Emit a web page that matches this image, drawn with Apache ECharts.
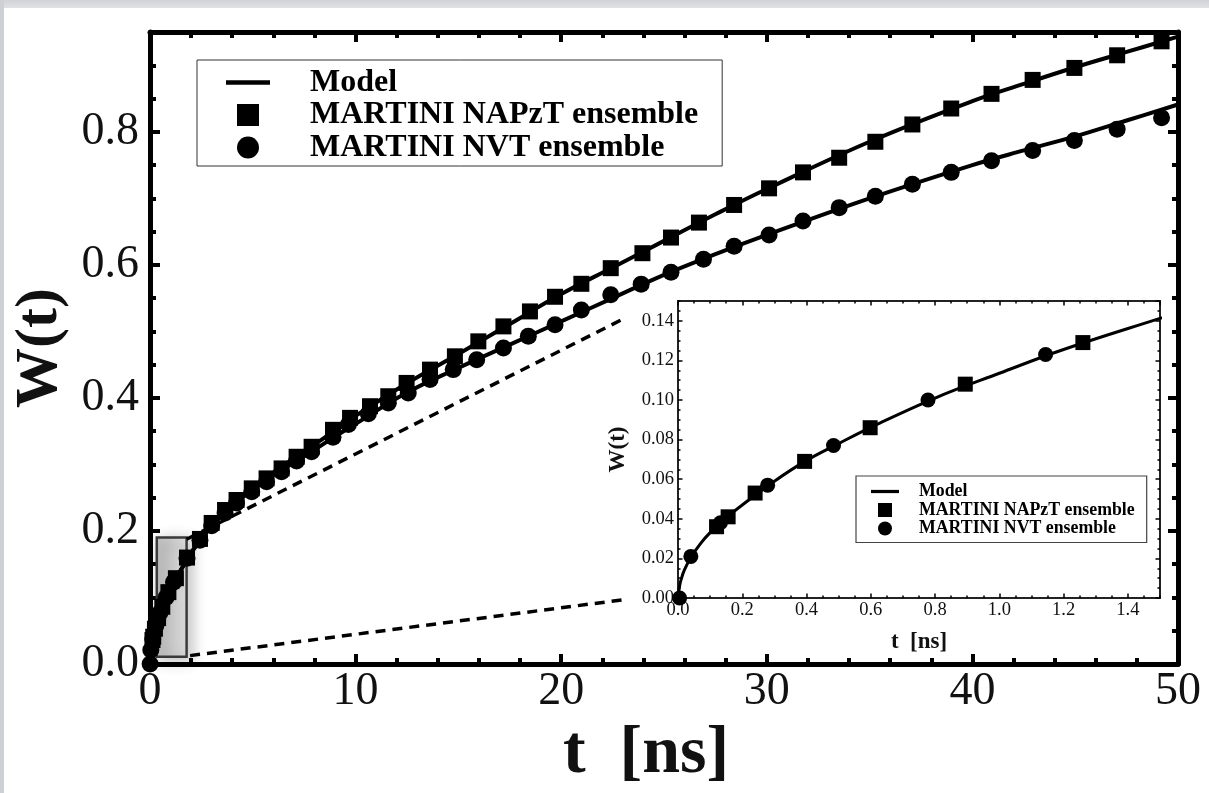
<!DOCTYPE html>
<html><head><meta charset="utf-8">
<script src="https://cdn.jsdelivr.net/npm/echarts@6/dist/echarts.min.js"></script>
<style>html,body{margin:0;padding:0;background:#fff;}#c{width:1209px;height:793px;}</style>
</head><body><div id="c"></div>
<script>
// ---------- data ----------
const napztT = [0.12, 0.156, 0.24, 0.394, 0.598, 0.894, 1.26, 1.8, 2.43, 3.0, 3.65, 4.21, 4.95, 5.67, 6.40, 7.13, 7.86, 8.9, 9.73, 10.70, 11.59, 12.48, 13.62, 14.83, 15.97, 17.19, 18.48, 19.70, 20.98, 22.41, 23.95, 25.34, 26.70, 28.41, 30.11, 31.76, 33.52, 35.28, 37.08, 38.97, 40.93, 42.93, 44.96, 47.04, 49.2];
const napztW = [0.036, 0.041, 0.053, 0.069, 0.086, 0.108, 0.129, 0.160, 0.188, 0.212, 0.2315, 0.2465, 0.264, 0.279, 0.294, 0.3115, 0.3265, 0.352, 0.370, 0.3875, 0.4025, 0.4225, 0.4425, 0.4625, 0.485, 0.5075, 0.530, 0.552, 0.5715, 0.595, 0.6175, 0.641, 0.6635, 0.690, 0.715, 0.739, 0.761, 0.785, 0.811, 0.835, 0.857, 0.878, 0.896, 0.915, 0.936];

const nvtT = [0.005, 0.04, 0.132, 0.279, 0.484, 0.778, 1.144, 1.8, 2.43, 3.0, 3.65, 4.21, 4.95, 5.67, 6.40, 7.13, 7.86, 8.9, 9.65, 10.62, 11.59, 12.56, 13.62, 14.75, 15.89, 17.19, 18.40, 19.70, 20.98, 22.41, 23.89, 25.34, 26.92, 28.41, 30.11, 31.76, 33.52, 35.28, 37.08, 38.97, 40.93, 42.93, 44.96, 47.04, 49.2];
const nvtW = [0.0, 0.021, 0.038, 0.057, 0.077, 0.100, 0.123, 0.159, 0.186, 0.208, 0.227, 0.242, 0.259, 0.274, 0.289, 0.305, 0.319, 0.341, 0.360, 0.376, 0.3925, 0.4075, 0.4275, 0.4425, 0.4575, 0.475, 0.4925, 0.510, 0.532, 0.555, 0.571, 0.589, 0.6085, 0.628, 0.645, 0.666, 0.686, 0.703, 0.721, 0.739, 0.7565, 0.772, 0.787, 0.804, 0.821];

const modelT      = [0, 0.005, 0.01, 0.02, 0.04, 0.07, 0.1, 0.15, 0.2, 0.3, 0.4, 0.5, 0.6, 0.8, 1.0, 1.2, 1.5, 2, 2.5, 3, 4, 5, 6, 7, 8, 9, 10, 12.5, 15, 17.5, 20, 22.5, 25, 27.5, 30, 35, 40, 42.5, 45, 47.5, 50];
const modelNapztW = [0, 0.006, 0.0095, 0.0142, 0.0205, 0.0275, 0.033, 0.0405, 0.047, 0.059, 0.0695, 0.078, 0.0862, 0.101, 0.1135, 0.1255, 0.1412, 0.167, 0.189, 0.209, 0.240, 0.265, 0.2875, 0.309, 0.330, 0.351, 0.373, 0.422, 0.466, 0.511, 0.556, 0.596, 0.636, 0.676, 0.714, 0.785, 0.846, 0.872, 0.897, 0.920, 0.943];
const modelNvtW   = [0, 0.006, 0.0095, 0.0142, 0.0205, 0.0275, 0.033, 0.0405, 0.047, 0.059, 0.0695, 0.078, 0.0862, 0.101, 0.1135, 0.1255, 0.1412, 0.167, 0.188, 0.208, 0.238, 0.262, 0.284, 0.303, 0.322, 0.342, 0.361, 0.408, 0.445, 0.480, 0.515, 0.550, 0.585, 0.616, 0.645, 0.700, 0.750, 0.772, 0.793, 0.817, 0.841];

const legendNames = ['Model', 'MARTINI NAPzT ensemble', 'MARTINI NVT ensemble'];

// annotation (zoom box + connector lines), in data units of the main axes
const zoomBox = [[0.33, 0.011], [1.78, 0.19]];
const connectorTop = [[1.78, 0.1875], [23.1, 0.52]];
const connectorBottom = [[1.95, 0.0126], [22.96, 0.0963]];

// ---------- helpers ----------
const SERIF = 'Liberation Serif';
const pairs = (xs, ys) => xs.map((x, i) => [x, ys[i]]);

function axis(o) {
  const a = {
    type: 'value', gridIndex: o.grid, position: o.pos, min: o.min, max: o.max, interval: o.interval,
    axisLine: { show: !!o.line, onZero: false, lineStyle: { color: '#000', width: o.line || 1 } },
    axisTick: { show: true, inside: true, length: o.tickLen, lineStyle: { color: '#000', width: o.tickW } },
    splitLine: { show: false },
    axisLabel: o.label ? Object.assign({ show: true, fontFamily: SERIF, color: '#111', showMaxLabel: false, showMinLabel: true }, o.label) : { show: false },
    silent: true
  };
  if (o.name) {
    a.name = o.name; a.nameLocation = 'middle'; a.nameGap = o.nameGap;
    if (o.nameRotate) a.nameRotate = o.nameRotate;
    a.nameTextStyle = Object.assign({ fontFamily: SERIF, fontWeight: 'bold', fontSize: o.nameSize, color: '#111' }, o.nameExtra || {});
  }
  if (o.minor) a.minorTick = { show: true, splitNumber: o.minor, length: o.minorLen, lineStyle: { color: '#000', width: o.tickW } };
  return a;
}

const xAxes = [
  // main
  axis({ grid: 0, pos: 'bottom', min: 0, max: 50, interval: 10, line: 5, tickLen: 10, tickW: 4, minor: 5, minorLen: 6,
         label: { fontSize: 46, margin: 5, showMaxLabel: true, formatter: v => String(v) },
         name: 't  [ns]', nameGap: 56, nameSize: 68, nameExtra: { padding: [0, 36, 0, 0] } }),
  axis({ grid: 0, pos: 'top', min: 0, max: 50, interval: 10, line: 5, tickLen: 10, tickW: 4, minor: 5, minorLen: 6 }),
  // inset
  axis({ grid: 1, pos: 'bottom', min: 0, max: 1.5, interval: 0.2, tickLen: 4.5, tickW: 1.5,
         label: { fontSize: 18.5, margin: 3, formatter: v => v.toFixed(1) }, name: 't  [ns]', nameGap: 33, nameSize: 23 }),
  axis({ grid: 1, pos: 'bottom', min: 0, max: 1.5, interval: 0.05, tickLen: 2.5, tickW: 1.5 }),
  axis({ grid: 1, pos: 'top', min: 0, max: 1.5, interval: 0.2, tickLen: 4.5, tickW: 1.5 }),
  axis({ grid: 1, pos: 'top', min: 0, max: 1.5, interval: 0.05, tickLen: 2.5, tickW: 1.5 })
];
const yAxes = [
  // main
  axis({ grid: 0, pos: 'left', min: 0, max: 0.95, interval: 0.2, line: 5, tickLen: 10, tickW: 4,
         label: { fontSize: 46, margin: 11, padding: [0, 0, 6, 0], formatter: v => v.toFixed(1) },
         name: 'W(t)', nameGap: 78, nameSize: 60, nameRotate: 90 }),
  axis({ grid: 0, pos: 'left', min: 0, max: 0.95, interval: 0.05, tickLen: 6, tickW: 4 }),
  axis({ grid: 0, pos: 'right', min: 0, max: 0.95, interval: 0.2, line: 5, tickLen: 10, tickW: 4 }),
  axis({ grid: 0, pos: 'right', min: 0, max: 0.95, interval: 0.05, tickLen: 6, tickW: 4 }),
  // inset
  axis({ grid: 1, pos: 'left', min: 0, max: 0.15, interval: 0.02, tickLen: 4.5, tickW: 1.5,
         label: { fontSize: 18.5, margin: 4, formatter: v => v.toFixed(2) }, name: 'W(t)', nameGap: 48, nameSize: 23, nameRotate: 90 }),
  axis({ grid: 1, pos: 'left', min: 0, max: 0.15, interval: 0.005, tickLen: 2.5, tickW: 1.5 }),
  axis({ grid: 1, pos: 'right', min: 0, max: 0.15, interval: 0.02, tickLen: 4.5, tickW: 1.5 }),
  axis({ grid: 1, pos: 'right', min: 0, max: 0.15, interval: 0.005, tickLen: 2.5, tickW: 1.5 })
];

const black = { color: '#000', opacity: 1 };
const coord = p => ({ coord: p });

const series = [
  { name: legendNames[0], type: 'line', xAxisIndex: 0, yAxisIndex: 0, data: pairs(modelT, modelNapztW),
    smooth: 0.4, showSymbol: false, lineStyle: { color: '#000', width: 4 }, itemStyle: black, z: 3,
    markLine: { silent: true, animation: false, symbol: ['none', 'none'], label: { show: false },
      lineStyle: { color: '#000', width: 3.5, type: [10, 7] },
      data: [[coord(connectorTop[0]), coord(connectorTop[1])], [coord(connectorBottom[0]), coord(connectorBottom[1])]] },
    markArea: { silent: true, animation: false, label: { show: false },
      itemStyle: { color: new echarts.graphic.LinearGradient(0, 0, 1, 0, [{ offset: 0, color: 'rgba(165,165,165,0.6)' }, { offset: 1, color: 'rgba(235,235,235,0.6)' }]),
        borderColor: '#3a3a3a', borderWidth: 2.5, shadowBlur: 14, shadowColor: 'rgba(0,0,0,0.35)', shadowOffsetX: 4, shadowOffsetY: 3 },
      data: [[coord(zoomBox[0]), coord(zoomBox[1])]] } },
  { name: legendNames[0], type: 'line', xAxisIndex: 0, yAxisIndex: 0, data: pairs(modelT, modelNvtW),
    smooth: 0.4, showSymbol: false, lineStyle: { color: '#000', width: 4 }, itemStyle: black, z: 3 },
  { name: legendNames[1], type: 'scatter', xAxisIndex: 0, yAxisIndex: 0, data: pairs(napztT, napztW),
    symbol: 'rect', symbolSize: 16, itemStyle: black, z: 4 },
  { name: legendNames[2], type: 'scatter', xAxisIndex: 0, yAxisIndex: 0, data: pairs(nvtT, nvtW),
    symbol: 'circle', symbolSize: 17, itemStyle: black, z: 4 },
  // inset
  { name: legendNames[0], type: 'line', xAxisIndex: 2, yAxisIndex: 4, data: pairs(modelT, modelNapztW), clip: true,
    smooth: 0.4, showSymbol: false, lineStyle: { color: '#000', width: 3 }, itemStyle: black, z: 3 },
  { name: legendNames[1], type: 'scatter', xAxisIndex: 2, yAxisIndex: 4, data: pairs(napztT, napztW), clip: true,
    symbol: 'rect', symbolSize: 15, itemStyle: black, z: 4 },
  { name: legendNames[2], type: 'scatter', xAxisIndex: 2, yAxisIndex: 4, data: pairs(nvtT, nvtW), clip: true,
    symbol: 'circle', symbolSize: 15, itemStyle: black, z: 4 }
];

const legendText = (size, padLeft) => ({ fontFamily: SERIF, fontWeight: 'bold', fontSize: size, color: '#000', padding: [0, 0, 0, padLeft] });

const option = {
  animation: false,
  backgroundColor: '#fff',
  graphic: [
    { type: 'rect', left: 0, top: 0, shape: { width: 1209, height: 8 }, style: { fill: new echarts.graphic.LinearGradient(0, 0, 0, 1, [{ offset: 0, color: '#d0d3d7' }, { offset: 1, color: '#dfe1e3' }]) }, silent: true, z: -10 },
    { type: 'rect', left: 0, top: 0, shape: { width: 4, height: 793 }, style: { fill: '#cdd1d5' }, silent: true, z: -10 }
  ],
  grid: [
    { left: 150, top: 32, width: 1028, height: 635 },
    { left: 678, top: 301, width: 482, height: 297, show: true, backgroundColor: '#fff', borderColor: '#222', borderWidth: 2 }
  ],
  xAxis: xAxes,
  yAxis: yAxes,
  legend: [
    { orient: 'vertical', left: 197, top: 60, padding: [6.5, 24, 2.5, 29], itemWidth: 44, itemHeight: 22, itemGap: 0.5,
      borderColor: '#333', borderWidth: 1, backgroundColor: '#fff', selectedMode: false,
      textStyle: legendText(32, 35),
      data: [{ name: legendNames[0], icon: 'path://M0,0L41,0L41,4L0,4Z' }, { name: legendNames[1], icon: 'path://M0,0L10,0L10,10L0,10Z' }, { name: legendNames[2], icon: 'circle' }] },
    { orient: 'vertical', left: 856, top: 476, padding: [6.5, 12, 5, 15], itemWidth: 28, itemHeight: 14, itemGap: 0.5,
      borderColor: '#444', borderWidth: 1.2, backgroundColor: '#fff', selectedMode: false, z: 20,
      textStyle: legendText(17.8, 15),
      data: [{ name: legendNames[0], icon: 'path://M0,0L26,0L26,3L0,3Z' }, { name: legendNames[1], icon: 'path://M0,0L10,0L10,10L0,10Z' }, { name: legendNames[2], icon: 'circle' }] }
  ],
  series: series
};

const chart = echarts.init(document.getElementById('c'), null, { renderer: 'canvas' });
chart.setOption(option);
</script></body></html>
